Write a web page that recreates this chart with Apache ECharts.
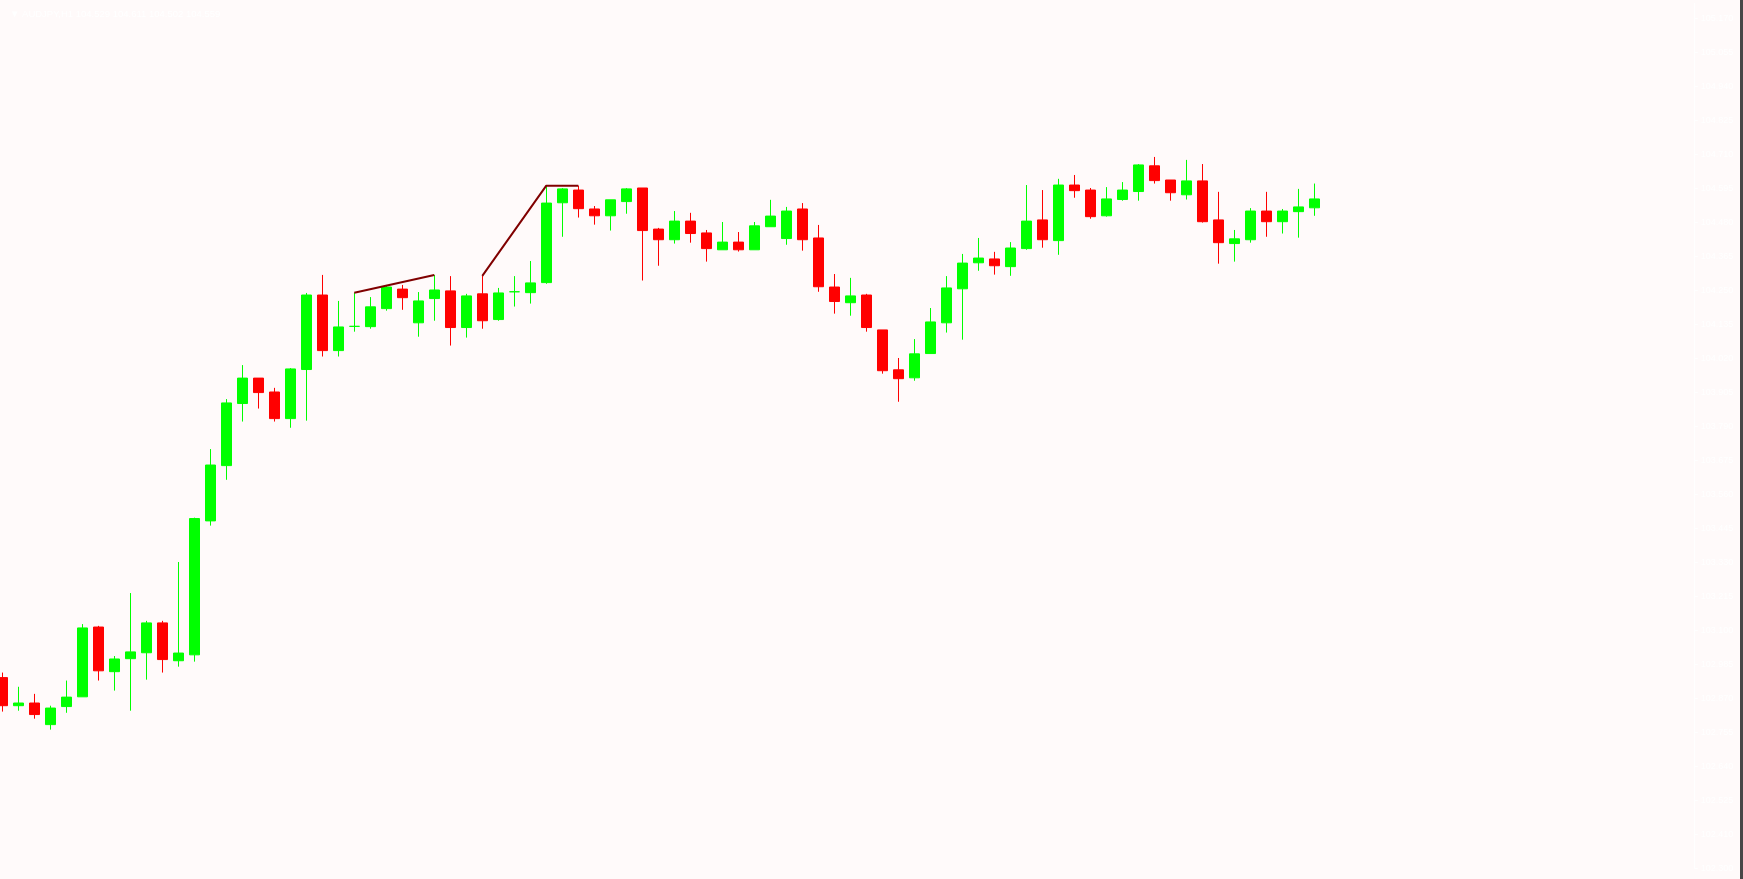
<!DOCTYPE html>
<html>
<head>
<meta charset="utf-8">
<title>AUDJPY,H1</title>
<script src="https://cdn.jsdelivr.net/npm/echarts@6/dist/echarts.min.js"></script>
<style>
  html, body { margin: 0; padding: 0; background: #fffafa; }
  #chart { width: 1743px; height: 879px; }
</style>
</head>
<body>
<div id="chart"></div>
<script>
// AUDJPY H1 bars, oldest first
const symbol = "AUDJPY";
const period = "H1";

const open = [
  102.940, 102.845, 102.854, 102.781, 102.842, 102.875, 103.111, 102.960, 103.004, 103.024,
  103.125, 102.997, 103.017, 103.470, 103.657, 103.867, 103.953, 103.906, 103.816, 103.982,
  104.234, 104.046, 104.128, 104.127, 104.188, 104.254, 104.140, 104.222, 104.248, 104.124,
  104.238, 104.151, 104.245, 104.242, 104.276, 104.546, 104.589, 104.525, 104.502, 104.550,
  104.596, 104.457, 104.421, 104.484, 104.444, 104.387, 104.413, 104.387, 104.465, 104.425,
  104.525, 104.427, 104.261, 104.208, 104.234, 104.116, 103.981, 103.954, 104.036, 104.140,
  104.255, 104.343, 104.356, 104.330, 104.391, 104.488, 104.418, 104.606, 104.589, 104.502,
  104.557, 104.584, 104.671, 104.623, 104.573, 104.620, 104.488, 104.408, 104.421, 104.518,
  104.482, 104.516, 104.529
];
const high = [
  102.957, 102.909, 102.885, 102.845, 102.930, 103.121, 103.115, 103.013, 103.226, 103.132,
  103.132, 103.331, 103.481, 103.713, 103.882, 103.997, 103.953, 103.920, 103.987, 104.241,
  104.302, 104.214, 104.242, 104.227, 104.268, 104.268, 104.244, 104.302, 104.298, 104.238,
  104.299, 104.258, 104.298, 104.349, 104.604, 104.596, 104.604, 104.535, 104.556, 104.596,
  104.596, 104.461, 104.518, 104.512, 104.454, 104.481, 104.447, 104.481, 104.556, 104.532,
  104.545, 104.471, 104.305, 104.292, 104.238, 104.116, 104.021, 104.085, 104.190, 104.298,
  104.373, 104.427, 104.380, 104.413, 104.606, 104.589, 104.627, 104.640, 104.596, 104.599,
  104.616, 104.677, 104.701, 104.623, 104.691, 104.677, 104.583, 104.454, 104.528, 104.583,
  104.525, 104.593, 104.611
];
const low = [
  102.825, 102.828, 102.801, 102.764, 102.821, 102.875, 102.930, 102.896, 102.828, 102.933,
  102.957, 102.977, 102.994, 103.454, 103.609, 103.806, 103.850, 103.806, 103.785, 103.809,
  104.026, 104.026, 104.110, 104.120, 104.181, 104.184, 104.093, 104.147, 104.063, 104.090,
  104.120, 104.147, 104.195, 104.205, 104.272, 104.431, 104.496, 104.472, 104.452, 104.509,
  104.283, 104.333, 104.408, 104.411, 104.347, 104.387, 104.381, 104.387, 104.465, 104.404,
  104.384, 104.245, 104.171, 104.164, 104.110, 103.968, 103.873, 103.944, 104.036, 104.107,
  104.083, 104.316, 104.303, 104.299, 104.387, 104.394, 104.370, 104.563, 104.492, 104.499,
  104.553, 104.553, 104.611, 104.553, 104.557, 104.479, 104.340, 104.347, 104.411, 104.431,
  104.442, 104.428, 104.502
];
const close = [
  102.845, 102.854, 102.815, 102.837, 102.874, 103.108, 102.963, 103.003, 103.027, 103.125,
  103.001, 103.023, 103.478, 103.659, 103.869, 103.953, 103.904, 103.816, 103.984, 104.234,
  104.046, 104.126, 104.128, 104.194, 104.261, 104.225, 104.214, 104.251, 104.124, 104.231,
  104.147, 104.241, 104.245, 104.275, 104.545, 104.593, 104.526, 104.502, 104.556, 104.593,
  104.452, 104.421, 104.484, 104.442, 104.391, 104.413, 104.387, 104.468, 104.501, 104.518,
  104.421, 104.262, 104.212, 104.231, 104.124, 103.978, 103.951, 104.035, 104.143, 104.258,
  104.342, 104.359, 104.333, 104.393, 104.484, 104.421, 104.606, 104.587, 104.499, 104.559,
  104.589, 104.674, 104.621, 104.580, 104.620, 104.482, 104.411, 104.424, 104.518, 104.482,
  104.518, 104.532, 104.559
];

// trend lines drawn over the highs: [bar index, price]
const trendA = [[22, 104.242], [27, 104.302]];
const trendB = [[30, 104.299], [34, 104.604], [36, 104.604]];

// price scale labels as shown on the right
const priceTicks = [
  "102.300", "102.410", "102.525", "102.640", "102.755", "102.870", "102.985", "103.100",
  "103.215", "103.330", "103.445", "103.560", "103.675", "103.790", "103.905", "104.020",
  "104.135", "104.250", "104.365", "104.480", "104.595", "104.710", "104.825", "104.940",
  "105.055", "105.170"
];
const priceMin = 102.295;
const priceMax = 105.22;
const priceStep = 0.115;

const emptyBars = 23; // free space on the right of the last bar

const bars = open.map((_, i) => String(i));
const categories = bars.concat(Array.from({ length: emptyBars }, () => ""));
const candles = open.map((o, i) => [o, close[i], low[i], high[i]]);
const last = open.length - 1;

const chart = echarts.init(document.getElementById("chart"));
const option = {
  animation: false,
  backgroundColor: "#fffafa",
  title: {
    text: "\u25BC " + symbol + "," + period + " " + open[last].toFixed(3) + " " + high[last].toFixed(3) +
      " " + low[last].toFixed(3) + " " + close[last].toFixed(3),
    left: 5,
    top: 4,
    textStyle: {
      color: "#ffffff",
      fontFamily: "Liberation Sans",
      fontSize: 9.5,
      fontWeight: "normal",
    },
  },
  grid: {
    left: -5.7,
    top: 3.5,
    width: 1696,
    height: 864.8,
    outerBoundsMode: "none",
    containLabel: false,
  },
  xAxis: {
    type: "category",
    data: categories,
    boundaryGap: true,
    axisLine: { show: false },
    axisTick: { show: false },
    axisLabel: { show: false },
    splitLine: { show: false },
  },
  yAxis: {
    type: "value",
    position: "right",
    offset: 4.4,
    min: priceMin,
    max: priceMax,
    interval: priceStep,
    scale: true,
    splitLine: { show: false },
    axisLine: { show: true, lineStyle: { color: "#ffffff", width: 1 } },
    axisTick: { show: true, length: 3, lineStyle: { color: "#ffffff" } },
    axisLabel: {
      color: "#ffffff",
      fontFamily: "Liberation Sans",
      fontSize: 9,
      margin: 6,
      showMaxLabel: false,
      formatter: (v, i) => priceTicks[i] || "",
    },
  },
  series: [
    {
      type: "candlestick",
      data: candles,
      barWidth: 10,
      itemStyle: {
        color: "#00ff00",
        color0: "#ff0000",
        borderColor: "#00ff00",
        borderColor0: "#ff0000",
        borderWidth: 1,
      },
      markLine: {
        silent: true,
        symbol: ["none", "none"],
        lineStyle: { opacity: 0 },
        label: {
          position: "end",
          distance: 7,
          color: "#f3eeee",
          backgroundColor: "#ffffff",
          padding: [1, 3],
          fontFamily: "Liberation Sans",
          fontSize: 9,
          formatter: (p) => p.value.toFixed(3),
        },
        data: [{ yAxis: close[last] }],
      },
    },
    {
      type: "line",
      data: trendA,
      symbol: "none",
      lineStyle: { color: "#800000", width: 2 },
      silent: true,
    },
    {
      type: "line",
      data: trendB,
      symbol: "none",
      lineStyle: { color: "#800000", width: 2 },
      silent: true,
    },
  ],
  graphic: [
    {
      type: "rect",
      right: 0,
      top: 0,
      shape: { width: 3, height: 879 },
      style: { fill: "#474747" },
    },
  ],
};
chart.setOption(option);
window.addEventListener("resize", () => {
  chart.resize();
});
</script>
</body>
</html>
